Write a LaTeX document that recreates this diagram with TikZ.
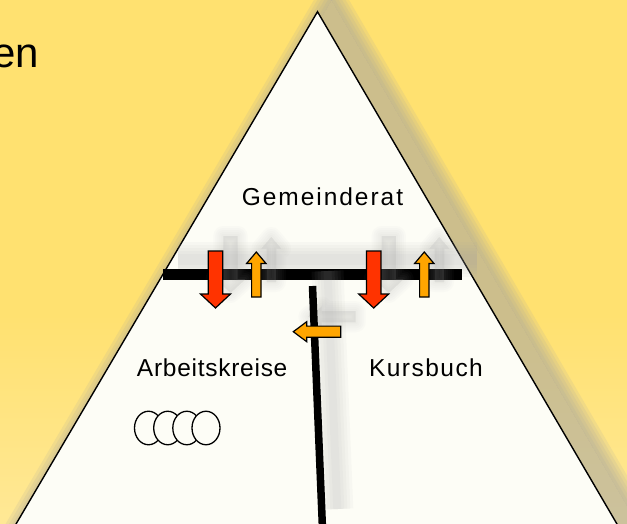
\documentclass[tikz,border=0pt]{standalone}
\usepackage{fontspec}
\setmainfont{Liberation Sans}
\usetikzlibrary{shapes.geometric, positioning}

\definecolor{bgtop}{HTML}{FFE170}
\definecolor{bgbottom}{HTML}{FEF1C4}
\definecolor{papier}{HTML}{FDFDF6}
\definecolor{pfeilrot}{HTML}{FF3300}
\definecolor{pfeilorange}{HTML}{FFA500}
\definecolor{schatten}{HTML}{A3A3A3}

\pgfdeclareverticalshading{hintergrund}{100bp}{color(0bp)=(bgbottom); color(45bp)=(bgtop); color(100bp)=(bgtop)}

% Umriss der Pyramide (Spitze oben, Basis unterhalb des Bildes)
\newcommand{\dreieckpfad}{(317.5,11.7) -- (-28.7,600) -- (661.4,600) -- cycle}

\tikzset{
  pics/blockpfeil/.style n args={5}{code={
    \path[#5] (-#1,0) -- (#1,0) -- (#1,#3-#4) -- (#2,#3-#4) -- (0,#3)
      -- (-#2,#3-#4) -- (-#1,#3-#4) -- cycle;
  }},
}

\begin{document}
\begin{tikzpicture}[x=1pt, y=-1pt,
        rand/.style={draw=black, line width=1.4pt, line join=miter},
        rotfuellung/.style={draw=black, line width=1.2pt, fill=pfeilrot},
        orangefuellung/.style={draw=black, line width=1.2pt, fill=pfeilorange},
        schattenlage/.style={draw=schatten, fill=schatten, line width=#1pt, line join=round, opacity=0.035},
        linienschatten/.style={draw=schatten, opacity=0.06, line width=#1pt},
        beschriftung/.style={inner sep=0pt, font=\fontsize{24.5}{29}\selectfont},
        kreis/.style={ellipse, draw=black, line width=1.3pt, fill=papier, inner sep=0pt, minimum width=28pt, minimum height=33.5pt}
        ]

    \useasboundingbox (0,0) rectangle (627,524);
    \clip (0,0) rectangle (627,524);
    \shade[shading=hintergrund] (0,0) rectangle (627,524);

    % Schatten der Pyramide
    \begin{scope}[shift={(14,-12)}]
        \fill[schatten, opacity=0.55] \dreieckpfad;
        \begin{scope}[even odd rule]
            \clip (-100,-100) rectangle (800,700) \dreieckpfad;
            \foreach \w in {30,24,18,12,6}
                \draw[schatten, opacity=0.15, line width=\w pt, line join=round] \dreieckpfad;
        \end{scope}
    \end{scope}
    \filldraw[rand, fill=papier] \dreieckpfad;

    \node[beschriftung, font=\fontsize{42}{48}\selectfont, anchor=base east] (rest) at (39.5,67.7) {en};

    \coordinate (balkenL) at (163,274.5);
    \coordinate (balkenR) at (462,274.5);
    \coordinate (stabO) at (312.5,286);
    \coordinate (stabU) at (322.3,524);
    \coordinate (rot1) at (215.5,251);
    \coordinate (rot2) at (373.7,251);
    \coordinate (orange1) at (256.3,297);
    \coordinate (orange2) at (424.3,297);
    \coordinate (links) at (340.7,331.7);

    % Balken mit Schatten
    \foreach \w in {35,29,23,17,11}
        \draw[linienschatten=\w] ([shift={(15,-15)}]balkenL) -- ([shift={(15,-15)}]balkenR);
    \draw[line width=11pt] (balkenL) -- (balkenR);

    % Schatten von Stab und Pfeilen
    \foreach \w in {32,26,20,14,8}
        \draw[linienschatten=\w] ([shift={(15,-15)}]stabO) -- ([shift={(15,-15)}]stabU);
    \foreach \w in {20,16,12,8,4} {
        \pic at ([shift={(15,-15)}]rot1) {blockpfeil={7.2}{15}{57}{14}{schattenlage=\w}};
        \pic at ([shift={(15,-15)}]rot2) {blockpfeil={7.2}{15}{57}{14}{schattenlage=\w}};
        \pic[rotate=180] at ([shift={(15,-15)}]orange1) {blockpfeil={4.7}{9.7}{45}{11.5}{schattenlage=\w}};
        \pic[rotate=180] at ([shift={(15,-15)}]orange2) {blockpfeil={4.7}{9.7}{45}{11.5}{schattenlage=\w}};
        \pic[rotate=-90] at ([shift={(15,-15)}]links) {blockpfeil={5.6}{10}{47.4}{13.4}{schattenlage=\w}};
    }

    \draw[line width=7.5pt] (stabO) -- (stabU);

    % Pfeile
    \pic at (rot1) {blockpfeil={7.2}{15}{57}{14}{rotfuellung}};
    \pic at (rot2) {blockpfeil={7.2}{15}{57}{14}{rotfuellung}};
    \pic[rotate=180] at (orange1) {blockpfeil={4.7}{9.7}{45}{11.5}{orangefuellung}};
    \pic[rotate=180] at (orange2) {blockpfeil={4.7}{9.7}{45}{11.5}{orangefuellung}};
    \pic[rotate=-90] at (links) {blockpfeil={5.6}{10}{47.4}{13.4}{orangefuellung}};

    \node[beschriftung, anchor=base] (gemeinderat) at (322.5,205.7) {\addfontfeatures{LetterSpace=8}Gemeinderat};
    \node[beschriftung, anchor=base] (arbeitskreise) at (212.2,376.7) {\addfontfeatures{LetterSpace=3}Arbeitskreise};
    \node[beschriftung, anchor=base] (kursbuch) at (426,376.7) {\addfontfeatures{LetterSpace=6}Kursbuch};

    \foreach \i/\x in {1/148.5, 2/167.7, 3/186.8, 4/206}
        \node[kreis] (kreis\i) at (\x,428) {};
\end{tikzpicture}
\end{document}
